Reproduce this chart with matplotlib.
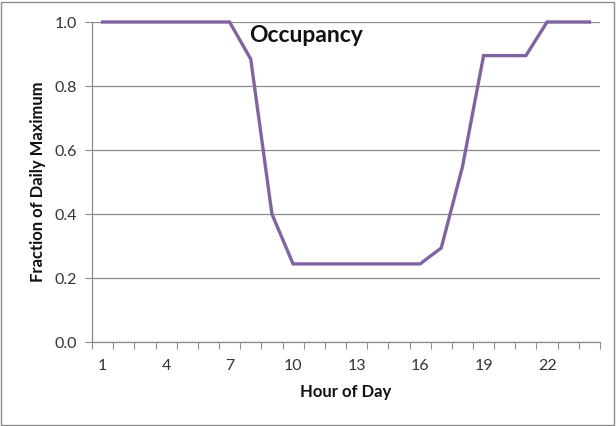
import matplotlib
matplotlib.use("Agg")
import matplotlib.pyplot as plt
from matplotlib.patches import Rectangle
import numpy as np

plt.rcParams['font.family'] = ['Lato', 'DejaVu Sans']

hours = list(range(1, 25))
occupancy = [1.0, 1.0, 1.0, 1.0, 1.0, 1.0, 1.0, 0.884, 0.40, 0.244,
             0.244, 0.244, 0.244, 0.244, 0.244, 0.244, 0.294, 0.547,
             0.895, 0.895, 0.895, 1.0, 1.0, 1.0]
xtick_labels = [1, 4, 7, 10, 13, 16, 19, 22]
ytick_values = [0.0, 0.2, 0.4, 0.6, 0.8, 1.0]

W, H = 616, 426
fig = plt.figure(figsize=(W / 100, H / 100), dpi=100)
ax = fig.add_axes([92 / W, 1 - 342 / H, (600 - 92) / W, (342 - 22) / H])

grid_c = '#8c8c8c'
ax.plot(hours, occupancy, color='#8064A2', lw=2.4, solid_joinstyle='miter', zorder=3, clip_on=False)

ax.set_xlim(0.5, 24.5)
ax.set_ylim(0, 1.0)

ax.set_yticks(ytick_values)
ax.set_yticklabels([f"{v:.1f}" for v in ytick_values], fontsize=11.5, color='#333333')
ax.tick_params(axis='y', length=5, color=grid_c, width=0.8, pad=6)
ax.yaxis.grid(True, color=grid_c, lw=0.9)
ax.set_axisbelow(True)

ax.set_xticks(xtick_labels)
ax.set_xticklabels([str(v) for v in xtick_labels], fontsize=11.5, color='#333333')
ax.tick_params(axis='x', which='major', length=0, pad=12)
ax.set_xticks(np.arange(0.5, 25, 1), minor=True)
ax.tick_params(axis='x', which='minor', length=5, color=grid_c, width=0.8)

for s in ['top', 'right']:
    ax.spines[s].set_visible(False)
for s in ['left', 'bottom']:
    ax.spines[s].set_color(grid_c)
    ax.spines[s].set_linewidth(0.9)

ax.set_xlabel('Hour of Day', fontsize=12, fontweight='bold', labelpad=8, color='#111111')
ax.set_ylabel('Fraction of Daily Maximum', fontsize=12, fontweight='bold', labelpad=6, color='#111111')

fig.text(306 / W, 1 - 35 / H, 'Occupancy', fontsize=16.5, fontweight='bold', ha='center', va='center', color='#111111')

fig.patches.append(Rectangle((1 / W, 1 / H), (W - 3) / W, (H - 3) / H, transform=fig.transFigure,
                             fill=False, edgecolor='#8c8c8c', lw=1.0))

fig.savefig('out.png', dpi=100)
